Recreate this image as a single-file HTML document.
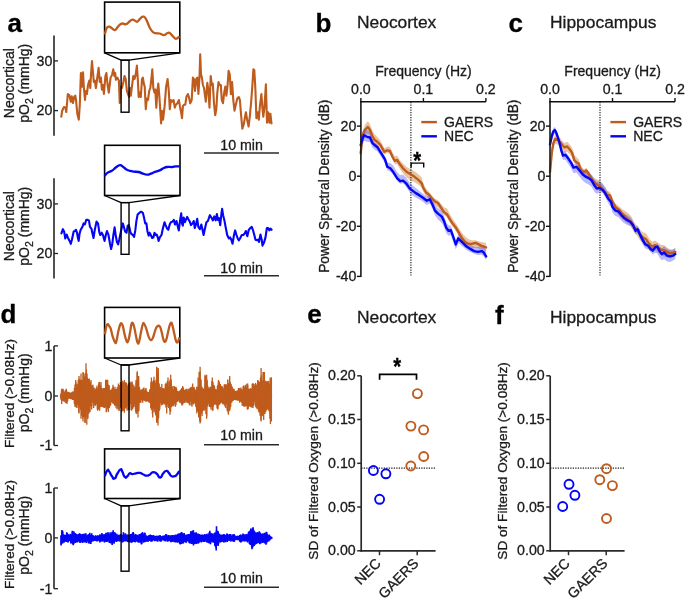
<!DOCTYPE html>
<html><head><meta charset="utf-8"><style>
html,body{margin:0;padding:0;background:#fff;}
body{width:685px;height:599px;overflow:hidden;}
svg{display:block;font-family:"Liberation Sans", sans-serif;will-change:transform;}
text{stroke:currentColor;stroke-width:0.3px;}
</style></head><body>
<svg width="685" height="599" viewBox="0 0 685 599">
<rect width="685" height="599" fill="#fff"/>
<text x="7.5" y="31.5" font-size="26" text-anchor="start" font-weight="bold" fill="#000" color="#000" >a</text>
<text x="315.5" y="31.5" font-size="26" text-anchor="start" font-weight="bold" fill="#000" color="#000" >b</text>
<text x="508.5" y="31.5" font-size="26" text-anchor="start" font-weight="bold" fill="#000" color="#000" >c</text>
<text x="0.5" y="322.5" font-size="26" text-anchor="start" font-weight="bold" fill="#000" color="#000" >d</text>
<text x="307.3" y="323.0" font-size="26" text-anchor="start" font-weight="bold" fill="#000" color="#000" >e</text>
<text x="495.0" y="323.8" font-size="26" text-anchor="start" font-weight="bold" fill="#000" color="#000" >f</text>
<text x="357.0" y="28.3" font-size="17.4" text-anchor="start" font-weight="normal" fill="#1a1a1a" color="#1a1a1a" >Neocortex</text>
<text x="550.0" y="28.0" font-size="17.4" text-anchor="start" font-weight="normal" fill="#1a1a1a" color="#1a1a1a" >Hippocampus</text>
<text x="357.0" y="322.6" font-size="17.4" text-anchor="start" font-weight="normal" fill="#1a1a1a" color="#1a1a1a" >Neocortex</text>
<text x="550.0" y="322.5" font-size="17.4" text-anchor="start" font-weight="normal" fill="#1a1a1a" color="#1a1a1a" >Hippocampus</text>
<line x1="54.0" y1="35.5" x2="54.0" y2="135.7" stroke="#333" stroke-width="1.7" />
<line x1="54.0" y1="60.9" x2="58.0" y2="60.9" stroke="#222" stroke-width="1.3" />
<text x="52.3" y="65.7" font-size="14.2" text-anchor="end" font-weight="normal" fill="#1a1a1a" color="#1a1a1a" >30</text>
<line x1="54.0" y1="110.6" x2="58.0" y2="110.6" stroke="#222" stroke-width="1.3" />
<text x="52.3" y="115.4" font-size="14.2" text-anchor="end" font-weight="normal" fill="#1a1a1a" color="#1a1a1a" >20</text>
<text x="0" y="0" font-size="14.0" text-anchor="middle" fill="#1a1a1a" color="#1a1a1a" transform="translate(14.3 83.2) rotate(-90)">Neocortical</text>
<text x="0" y="0" font-size="14.0" text-anchor="middle" fill="#1a1a1a" color="#1a1a1a" transform="translate(29.2 83.2) rotate(-90)">pO<tspan font-size="10.5" dy="3.8">2</tspan><tspan dy="-3.8"> (mmHg)</tspan></text>
<polyline points="61.3,116.7 62.2,110.7 64.0,107.0 65.5,107.7 66.3,112.0 67.8,94.0 69.3,95.0 70.8,101.7 71.8,96.4 73.0,103.0 74.2,97.0 75.3,95.6 76.0,100.0 77.3,113.7 78.8,119.7 79.8,104.7 80.9,73.0 82.0,86.6 83.0,72.3 83.9,88.0 85.0,100.0 85.8,91.0 86.9,94.0 88.0,85.0 89.3,80.6 90.3,88.0 91.0,74.6 92.0,61.0 92.9,71.6 93.8,82.0 94.8,80.6 95.9,88.0 97.1,79.0 98.6,67.8 99.8,82.0 100.9,77.6 101.9,89.6 103.1,85.0 103.9,94.0 105.4,76.0 106.4,73.0 107.6,85.0 108.8,92.6 110.6,77.6 112.1,74.6 113.3,69.3 114.4,76.0 115.2,73.0 115.9,79.8 117.4,77.6 118.9,80.6 119.7,103.0 120.6,86.6 121.9,88.0 123.4,82.0 124.5,76.0 125.7,79.0 126.9,91.0 127.9,94.0 129.0,97.0 130.2,88.0 130.8,95.6 132.3,83.6 133.3,76.0 134.5,79.0 135.7,74.6 136.9,65.6 137.8,79.0 138.7,97.0 139.8,92.6 140.8,97.0 142.0,79.0 142.9,77.6 143.8,83.6 144.7,86.6 145.8,109.2 146.8,98.6 148.0,100.0 149.2,91.0 150.3,88.0 151.4,79.0 152.3,69.3 153.3,88.0 154.4,92.6 155.3,89.6 156.3,107.7 157.4,91.0 158.3,83.6 159.3,95.6 160.4,112.2 161.1,123.5 161.9,110.7 163.1,119.7 164.6,106.2 166.1,86.6 167.6,79.0 168.8,91.0 169.8,109.2 170.9,100.0 172.1,101.7 173.6,100.0 174.8,107.7 175.9,104.7 177.4,103.2 178.9,100.0 179.9,106.2 181.1,112.2 182.0,118.2 182.9,106.2 184.1,104.7 185.3,104.7 186.4,97.0 187.9,94.0 188.9,97.0 190.2,103.2 191.7,100.0 192.9,77.6 193.9,79.0 195.0,91.0 196.2,79.0 197.4,77.6 198.4,94.0 199.5,77.6 200.2,54.3 201.0,74.6 201.9,77.6 202.9,85.0 204.0,88.0 205.8,101.7 207.3,82.9 208.3,89.6 209.5,107.7 210.7,76.0 211.8,85.0 212.8,83.6 214.0,103.2 215.2,115.2 216.3,109.2 217.3,92.6 218.5,82.1 219.7,85.0 220.8,85.0 221.8,100.2 223.0,103.2 224.2,92.6 225.3,86.6 226.4,95.6 227.6,85.0 228.6,70.8 229.8,74.6 230.9,94.1 232.1,82.1 233.3,100.2 234.5,110.7 235.8,104.7 237.3,98.6 238.8,97.1 239.9,100.2 241.1,115.2 242.3,128.7 243.8,124.2 244.8,118.2 245.9,112.2 247.1,119.7 248.6,126.5 249.8,116.7 251.3,100.2 252.4,85.0 253.4,69.3 254.3,70.1 255.4,89.6 256.4,118.2 257.6,112.2 258.8,119.7 259.9,106.2 261.4,94.1 262.4,107.7 263.3,116.7 264.4,107.7 265.9,84.4 267.0,122.7 268.2,112.2 269.4,122.7 270.4,113.7 271.5,123.5" fill="none" stroke="#bf5b1c" stroke-width="2.1" stroke-linejoin="round" stroke-linecap="round" />
<rect x="104.6" y="2.1" width="75.2" height="50.7" fill="none" stroke="#000" stroke-width="1.6"/>
<polyline points="104.6,52.8 121.1,60.2 129.0,60.2 179.8,52.8" fill="none" stroke="#000" stroke-width="1.3" stroke-linejoin="round"/>
<rect x="121.1" y="60.2" width="7.9" height="52.0" fill="none" stroke="#000" stroke-width="1.4"/>
<path d="M105.00,33.50 C105.48,32.01 105.65,29.71 106.80,27.90 C107.95,26.09 108.05,26.70 109.30,26.70 C110.55,26.70 110.01,27.02 111.50,27.90 C112.99,28.78 113.17,30.32 114.90,30.00 C116.63,29.68 116.19,28.41 118.00,26.70 C119.81,24.99 119.57,24.27 121.70,23.60 C123.83,22.93 124.00,24.71 126.00,24.20 C128.00,23.69 127.52,22.93 129.20,21.70 C130.88,20.47 130.83,19.92 132.30,19.60 C133.77,19.28 133.39,19.94 134.70,20.50 C136.01,21.06 135.87,22.05 137.20,21.70 C138.53,21.35 138.21,20.53 139.70,19.20 C141.19,17.87 141.31,17.02 142.80,16.70 C144.29,16.38 143.97,16.32 145.30,18.00 C146.63,19.68 146.49,20.20 147.80,23.00 C149.11,25.80 148.73,26.02 150.20,28.50 C151.67,30.98 151.62,31.02 153.30,32.30 C154.98,33.58 154.82,32.98 156.50,33.30 C158.18,33.62 158.13,33.18 159.60,33.50 C161.07,33.82 160.69,34.10 162.00,34.50 C163.31,34.90 163.17,35.32 164.50,35.00 C165.83,34.68 165.67,33.86 167.00,33.30 C168.33,32.74 168.17,32.34 169.50,32.90 C170.83,33.46 170.69,34.09 172.00,35.40 C173.31,36.71 173.25,36.92 174.40,37.80 C175.55,38.68 175.13,38.91 176.30,38.70 C177.47,38.49 178.13,37.45 178.80,37.00" fill="none" stroke="#bf5b1c" stroke-width="2.3" stroke-linejoin="round" stroke-linecap="round" />
<line x1="204.0" y1="153.0" x2="279.0" y2="153.0" stroke="#2a2a2a" stroke-width="1.5" />
<text x="241.6" y="149.7" font-size="14.2" text-anchor="middle" font-weight="normal" fill="#1a1a1a" color="#1a1a1a" >10 min</text>
<line x1="54.0" y1="178.3" x2="54.0" y2="278.6" stroke="#333" stroke-width="1.7" />
<line x1="54.0" y1="203.9" x2="58.0" y2="203.9" stroke="#222" stroke-width="1.3" />
<text x="52.3" y="208.7" font-size="14.2" text-anchor="end" font-weight="normal" fill="#1a1a1a" color="#1a1a1a" >30</text>
<line x1="54.0" y1="253.5" x2="58.0" y2="253.5" stroke="#222" stroke-width="1.3" />
<text x="52.3" y="258.3" font-size="14.2" text-anchor="end" font-weight="normal" fill="#1a1a1a" color="#1a1a1a" >20</text>
<text x="0" y="0" font-size="14.0" text-anchor="middle" fill="#1a1a1a" color="#1a1a1a" transform="translate(14.3 226.2) rotate(-90)">Neocortical</text>
<text x="0" y="0" font-size="14.0" text-anchor="middle" fill="#1a1a1a" color="#1a1a1a" transform="translate(29.2 226.2) rotate(-90)">pO<tspan font-size="10.5" dy="3.8">2</tspan><tspan dy="-3.8"> (mmHg)</tspan></text>
<polyline points="61.4,233.3 62.9,229.2 64.1,231.5 65.3,238.5 66.7,234.5 67.8,237.4 69.6,240.9 70.8,243.8 71.9,239.7 73.7,231.5 74.9,231.0 76.0,229.8 77.0,232.7 77.8,237.4 78.7,240.9 79.5,233.9 80.7,229.8 82.4,226.9 83.6,223.4 84.8,224.5 86.3,219.9 87.7,219.9 88.9,220.4 90.0,226.9 91.4,228.6 92.6,233.9 93.5,238.0 94.7,230.4 96.5,221.6 98.0,223.4 99.4,232.7 100.3,235.0 101.7,232.7 102.9,235.0 104.6,240.9 105.8,235.0 107.0,231.0 108.5,235.0 109.9,243.2 111.1,249.0 112.2,244.4 113.4,235.0 114.6,227.4 115.7,235.0 116.9,242.0 118.1,244.4 119.2,239.7 120.4,233.9 121.6,228.6 122.8,223.4 123.9,226.9 125.1,231.5 126.5,232.7 127.7,225.7 128.8,225.1 130.3,231.5 131.2,233.9 132.9,235.0 134.1,236.8 135.3,230.4 136.4,221.0 137.6,214.6 139.3,212.9 141.1,211.7 142.9,212.9 144.0,217.5 145.2,223.4 146.4,223.4 147.5,231.5 148.7,235.6 149.6,232.7 150.8,235.0 152.2,238.0 153.4,237.4 154.5,232.7 155.7,235.0 156.6,234.5 157.8,237.4 158.6,240.9 159.8,237.4 161.5,235.0 162.7,229.2 164.5,222.2 165.6,225.1 167.1,228.6 168.3,229.8 169.7,224.5 170.9,222.2 172.3,221.6 173.8,219.9 175.0,224.5 176.5,221.0 177.9,226.9 178.8,230.4 180.0,221.0 181.2,213.4 182.0,223.4 182.8,225.7 183.7,217.5 184.9,222.2 186.1,219.3 187.2,216.9 188.4,219.3 189.8,221.6 191.0,225.1 192.5,223.4 193.7,221.0 194.8,228.0 196.0,224.5 197.2,218.7 198.3,226.9 199.9,229.2 201.3,224.5 202.4,229.2 203.6,235.0 204.8,229.2 206.4,222.2 207.9,221.0 209.9,215.2 211.4,217.5 212.9,220.4 214.3,216.4 215.7,220.4 216.9,214.0 217.9,219.9 219.0,218.1 220.2,225.1 221.4,214.0 222.1,208.8 223.1,215.2 224.3,219.9 225.8,228.0 227.2,235.0 228.9,238.5 230.1,237.4 231.3,239.7 232.5,243.8 234.0,235.0 235.1,230.4 236.5,235.0 237.7,238.5 238.9,240.3 240.0,238.5 241.8,235.0 243.3,235.0 244.7,233.3 245.9,231.0 247.3,236.2 248.8,229.8 250.3,228.0 251.7,226.9 253.1,230.4 254.3,235.0 255.5,239.7 257.0,240.3 258.2,239.7 259.0,242.0 260.5,234.5 261.7,239.7 262.5,245.6 264.0,242.6 265.5,237.4 266.9,228.0 268.1,228.0 269.3,230.4 270.4,228.6 271.6,229.8" fill="none" stroke="#0404f6" stroke-width="2.1" stroke-linejoin="round" stroke-linecap="round" />
<rect x="104.6" y="145.3" width="75.4" height="50.2" fill="none" stroke="#000" stroke-width="1.6"/>
<polyline points="104.6,195.5 121.1,202.6 129.0,202.6 180.0,195.5" fill="none" stroke="#000" stroke-width="1.3" stroke-linejoin="round"/>
<rect x="121.1" y="202.6" width="7.9" height="51.7" fill="none" stroke="#000" stroke-width="1.4"/>
<path d="M105.00,175.40 C105.64,174.73 105.59,174.13 107.40,172.90 C109.21,171.67 109.48,172.29 111.80,170.80 C114.12,169.31 113.94,168.79 116.10,167.30 C118.26,165.81 118.06,165.36 119.90,165.20 C121.74,165.04 121.37,165.63 123.00,166.70 C124.63,167.77 124.19,168.11 126.00,169.20 C127.81,170.29 127.80,170.16 129.80,170.80 C131.80,171.44 131.18,171.28 133.50,171.60 C135.82,171.92 136.18,171.55 138.50,172.00 C140.82,172.45 139.91,172.58 142.20,173.30 C144.49,174.02 144.78,174.59 147.10,174.70 C149.42,174.81 148.90,174.42 150.90,173.70 C152.90,172.98 152.28,172.88 154.60,172.00 C156.92,171.12 157.28,171.39 159.60,170.40 C161.92,169.41 161.33,169.21 163.30,168.30 C165.27,167.39 164.68,167.35 167.00,167.00 C169.32,166.65 169.68,167.16 172.00,167.00 C174.32,166.84 173.89,166.59 175.70,166.40 C177.51,166.21 177.97,166.33 178.80,166.30" fill="none" stroke="#0404f6" stroke-width="2.3" stroke-linejoin="round" stroke-linecap="round" />
<line x1="204.0" y1="275.8" x2="279.0" y2="275.8" stroke="#2a2a2a" stroke-width="1.5" />
<text x="241.6" y="272.5" font-size="14.2" text-anchor="middle" font-weight="normal" fill="#1a1a1a" color="#1a1a1a" >10 min</text>
<line x1="54.0" y1="345.9" x2="54.0" y2="445.5" stroke="#333" stroke-width="1.7" />
<line x1="54.0" y1="345.9" x2="58.0" y2="345.9" stroke="#222" stroke-width="1.3" />
<text x="52.3" y="350.7" font-size="14.2" text-anchor="end" font-weight="normal" fill="#1a1a1a" color="#1a1a1a" >1</text>
<line x1="54.0" y1="396.0" x2="58.0" y2="396.0" stroke="#222" stroke-width="1.3" />
<text x="52.3" y="400.8" font-size="14.2" text-anchor="end" font-weight="normal" fill="#1a1a1a" color="#1a1a1a" >0</text>
<line x1="54.0" y1="445.5" x2="58.0" y2="445.5" stroke="#222" stroke-width="1.3" />
<text x="52.3" y="450.3" font-size="14.2" text-anchor="end" font-weight="normal" fill="#1a1a1a" color="#1a1a1a" >-1</text>
<text x="0" y="0" font-size="13.6" text-anchor="middle" fill="#1a1a1a" color="#1a1a1a" transform="translate(14.2 393.5) rotate(-90)">Filtered (&gt;0.08Hz)</text>
<text x="0" y="0" font-size="14.0" text-anchor="middle" fill="#1a1a1a" color="#1a1a1a" transform="translate(29.3 392.8) rotate(-90)">pO<tspan font-size="10.5" dy="3.8">2</tspan><tspan dy="-3.8"> (mmHg)</tspan></text>
<polygon points="60.6,395.0 61.6,392.8 62.6,392.6 63.6,393.3 64.6,393.9 65.6,393.1 66.6,392.9 67.6,394.0 68.6,394.2 69.6,394.4 70.6,394.3 71.6,394.2 72.6,393.9 73.6,393.0 74.6,391.7 75.6,389.0 76.6,389.9 77.6,389.4 78.6,387.6 79.6,386.5 80.6,386.0 81.6,385.5 82.6,385.2 83.6,385.3 84.6,385.6 85.6,383.0 86.6,383.9 87.6,386.4 88.6,387.6 89.6,388.3 90.6,388.6 91.6,389.3 92.6,390.4 93.6,391.4 94.6,392.5 95.6,392.4 96.6,391.5 97.6,390.7 98.6,389.9 99.6,389.6 100.6,389.6 101.6,391.0 102.6,392.8 103.6,392.3 104.6,390.7 105.6,388.9 106.6,388.7 107.6,388.7 108.6,390.4 109.6,391.7 110.6,392.8 111.6,392.5 112.6,391.3 113.6,391.1 114.6,391.5 115.6,392.0 116.6,392.4 117.6,391.6 118.6,390.2 119.6,389.8 120.6,389.5 121.6,389.2 122.6,389.0 123.6,388.8 124.6,388.8 125.6,389.4 126.6,389.9 127.6,390.1 128.6,390.1 129.6,389.5 130.6,389.3 131.6,389.3 132.6,389.9 133.6,390.8 134.6,390.4 135.6,389.2 136.6,386.9 137.6,385.2 138.6,386.7 139.6,391.1 140.6,392.9 141.6,392.9 142.6,392.6 143.6,392.2 144.6,392.1 145.6,392.2 146.6,392.7 147.6,393.4 148.6,394.0 149.6,391.9 150.6,389.5 151.6,387.5 152.6,387.4 153.6,387.3 154.6,388.4 155.6,388.8 156.6,383.3 157.6,383.0 158.6,385.2 159.6,391.7 160.6,391.2 161.6,390.6 162.6,391.1 163.6,392.0 164.6,391.6 165.6,390.4 166.6,389.2 167.6,388.0 168.6,388.3 169.6,388.9 170.6,386.5 171.6,390.0 172.6,391.6 173.6,391.5 174.6,391.5 175.6,391.6 176.6,392.2 177.6,393.1 178.6,393.5 179.6,393.5 180.6,393.0 181.6,392.3 182.6,391.5 183.6,392.2 184.6,393.1 185.6,392.9 186.6,392.6 187.6,392.6 188.6,392.6 189.6,392.5 190.6,392.1 191.6,391.5 192.6,390.3 193.6,391.2 194.6,392.4 195.6,392.2 196.6,391.8 197.6,389.1 198.6,386.3 199.6,383.9 200.6,385.0 201.6,389.5 202.6,391.9 203.6,392.1 204.6,389.0 205.6,386.3 206.6,386.3 207.6,389.8 208.6,392.2 209.6,391.9 210.6,391.1 211.6,389.0 212.6,388.1 213.6,389.9 214.6,391.4 215.6,392.3 216.6,392.3 217.6,390.3 218.6,388.9 219.6,389.8 220.6,390.6 221.6,391.2 222.6,391.6 223.6,391.1 224.6,390.7 225.6,390.0 226.6,389.3 227.6,388.5 228.6,387.7 229.6,387.0 230.6,389.1 231.6,391.5 232.6,392.1 233.6,392.6 234.6,393.1 235.6,393.6 236.6,393.9 237.6,393.0 238.6,392.3 239.6,392.2 240.6,392.1 241.6,391.8 242.6,391.5 243.6,391.2 244.6,391.0 245.6,390.8 246.6,390.5 247.6,390.2 248.6,390.9 249.6,391.7 250.6,392.1 251.6,391.0 252.6,390.2 253.6,390.3 254.6,390.4 255.6,390.1 256.6,389.4 257.6,388.8 258.6,389.1 259.6,389.5 260.6,385.5 261.6,383.7 262.6,384.6 263.6,385.1 264.6,385.7 265.6,388.7 266.6,389.1 267.6,389.3 268.6,388.7 269.6,388.0 270.6,387.5 271.6,391.7 271.6,407.3 270.6,408.3 269.6,406.5 268.6,403.9 267.6,402.0 266.6,402.6 265.6,403.3 264.6,405.1 263.6,406.7 262.6,407.0 261.6,407.2 260.6,406.4 259.6,404.6 258.6,402.9 257.6,402.0 256.6,401.3 255.6,400.7 254.6,400.9 253.6,401.2 252.6,401.2 251.6,401.0 250.6,400.8 249.6,401.1 248.6,401.5 247.6,401.9 246.6,401.4 245.6,401.0 244.6,400.6 243.6,400.4 242.6,400.2 241.6,399.8 240.6,399.3 239.6,398.9 238.6,398.4 237.6,398.0 236.6,397.7 235.6,397.7 234.6,397.7 233.6,398.1 232.6,398.5 231.6,399.1 230.6,400.9 229.6,402.6 228.6,404.0 227.6,403.4 226.6,402.3 225.6,401.2 224.6,400.6 223.6,399.9 222.6,399.4 221.6,399.2 220.6,398.9 219.6,399.8 218.6,400.9 217.6,401.8 216.6,400.9 215.6,400.0 214.6,400.1 213.6,401.6 212.6,402.4 211.6,402.1 210.6,401.6 209.6,400.7 208.6,399.8 207.6,402.2 206.6,406.1 205.6,403.1 204.6,401.8 203.6,403.1 202.6,404.3 201.6,405.7 200.6,407.4 199.6,407.2 198.6,405.3 197.6,404.4 196.6,403.3 195.6,401.0 194.6,399.0 193.6,399.6 192.6,400.3 191.6,400.6 190.6,400.3 189.6,399.9 188.6,399.5 187.6,399.0 186.6,398.9 185.6,398.9 184.6,398.9 183.6,399.4 182.6,399.8 181.6,399.9 180.6,399.3 179.6,398.8 178.6,398.6 177.6,398.4 176.6,399.3 175.6,400.5 174.6,400.5 173.6,400.3 172.6,400.3 171.6,401.8 170.6,403.4 169.6,403.4 168.6,401.4 167.6,402.6 166.6,403.6 165.6,402.0 164.6,400.4 163.6,399.6 162.6,399.8 161.6,400.1 160.6,401.1 159.6,402.3 158.6,406.3 157.6,408.7 156.6,407.6 155.6,404.9 154.6,402.7 153.6,404.2 152.6,405.3 151.6,403.2 150.6,401.1 149.6,399.7 148.6,398.3 147.6,398.3 146.6,398.3 145.6,398.3 144.6,398.5 143.6,398.7 142.6,398.9 141.6,398.9 140.6,398.9 139.6,400.2 138.6,403.5 137.6,405.2 136.6,404.3 135.6,403.1 134.6,401.6 133.6,401.0 132.6,401.8 131.6,402.5 130.6,400.3 129.6,402.2 128.6,402.3 127.6,402.4 126.6,402.7 125.6,403.0 124.6,403.3 123.6,403.3 122.6,403.2 121.6,403.0 120.6,402.8 119.6,402.6 118.6,402.4 117.6,402.1 116.6,401.6 115.6,400.7 114.6,399.9 113.6,399.5 112.6,399.0 111.6,399.4 110.6,400.0 109.6,401.3 108.6,402.8 107.6,403.1 106.6,403.1 105.6,402.4 104.6,401.5 103.6,401.1 102.6,400.9 101.6,400.8 100.6,401.7 99.6,402.5 98.6,402.5 97.6,402.4 96.6,401.2 95.6,400.2 94.6,400.8 93.6,401.3 92.6,401.6 91.6,402.0 90.6,402.6 89.6,403.2 88.6,404.7 87.6,406.4 86.6,408.7 85.6,408.2 84.6,407.8 83.6,407.5 82.6,407.1 81.6,406.5 80.6,405.6 79.6,404.4 78.6,403.2 77.6,402.0 76.6,401.2 75.6,400.9 74.6,399.8 73.6,397.7 72.6,397.5 71.6,397.2 70.6,397.1 69.6,397.1 68.6,397.1 67.6,398.5 66.6,399.3 65.6,398.9 64.6,398.6 63.6,398.4 62.6,399.0 61.6,399.2 60.6,396.5" fill="#bf5b1c"/>
<polyline points="60.6,394.4 61.0,399.4 61.4,391.0 61.8,400.8 62.3,391.6 62.8,400.1 63.2,390.2 63.8,399.7 64.2,392.1 64.8,401.5 65.3,390.4 65.7,402.5 66.1,391.0 66.5,401.9 67.1,392.0 67.6,401.2 68.1,392.5 68.4,397.6 68.9,392.7 69.3,398.1 69.9,393.1 70.3,398.6 70.9,393.2 71.4,398.5 72.0,392.3 72.4,399.4 72.8,391.9 73.4,398.7 73.9,391.8 74.4,403.4 75.0,384.9 75.4,406.2 75.9,382.3 76.4,407.2 77.1,385.4 77.6,404.4 78.2,380.7 78.8,412.2 79.2,379.1 79.8,406.8 80.3,380.3 80.7,409.5 81.2,380.1 81.7,415.6 82.3,380.7 82.8,418.2 83.4,373.2 84.0,416.4 84.5,377.1 85.1,422.6 85.5,376.0 85.9,417.1 86.4,370.2 86.8,409.9 87.3,378.0 87.8,418.1 88.4,379.4 88.9,413.2 89.3,379.2 89.9,411.4 90.5,382.3 90.9,405.6 91.5,386.6 91.8,405.9 92.2,385.3 92.6,401.4 93.0,388.4 93.4,402.8 94.1,388.0 94.5,404.4 94.9,390.4 95.3,405.6 95.9,388.7 96.4,403.4 96.8,387.6 97.3,409.0 97.6,389.4 98.3,408.9 98.7,384.1 99.0,408.9 99.7,382.4 100.2,406.5 100.7,385.9 101.3,406.1 101.9,388.4 102.3,406.5 102.9,389.1 103.5,407.1 104.1,388.7 104.6,406.1 105.0,388.5 105.4,406.8 105.9,380.1 106.4,411.8 107.1,380.2 107.5,408.0 108.0,384.9 108.4,410.5 109.0,385.7 109.5,407.4 110.1,390.6 110.6,404.9 111.2,389.8 111.7,401.5 112.3,388.4 112.9,403.1 113.3,386.8 114.0,403.8 114.4,389.1 114.8,405.0 115.4,389.6 116.0,407.3 116.5,389.6 117.0,405.3 117.4,387.3 117.9,408.3 118.6,385.2 119.2,410.2 119.6,385.6 120.0,407.5 120.5,385.0 121.0,406.8 121.6,383.9 122.1,410.4 122.7,383.0 123.4,410.3 123.9,382.1 124.2,410.1 124.6,388.3 125.2,407.6 125.7,382.7 126.2,408.3 126.7,384.3 127.3,405.8 127.9,386.1 128.3,409.6 128.8,384.3 129.4,409.8 129.8,382.9 130.3,403.4 130.9,383.5 131.4,407.9 132.0,382.5 132.7,408.8 133.1,384.9 133.7,406.8 134.1,388.4 134.6,404.1 135.0,387.4 135.6,411.2 136.2,383.6 136.8,413.4 137.1,372.9 137.8,411.7 138.4,378.5 138.9,410.6 139.5,387.7 140.0,401.9 140.5,391.1 140.9,402.3 141.3,390.1 141.7,399.6 142.2,389.8 142.7,400.1 143.3,388.4 144.0,400.0 144.4,390.9 145.0,400.3 145.4,389.1 146.0,401.2 146.4,390.7 147.1,400.8 147.6,392.2 148.0,401.0 148.5,393.1 149.1,402.1 149.7,389.9 150.3,402.7 150.9,382.4 151.3,409.3 152.0,381.4 152.4,413.4 152.8,383.1 153.2,408.0 153.6,380.6 154.0,412.0 154.5,380.9 154.9,408.8 155.2,385.2 155.6,414.8 156.1,379.8 156.6,421.7 157.0,368.1 157.5,420.5 158.1,372.5 158.6,417.8 159.2,383.8 159.8,408.7 160.3,387.4 160.8,402.7 161.2,388.8 161.8,403.1 162.2,388.5 162.8,404.4 163.3,388.7 163.7,402.4 164.2,389.8 164.7,404.1 165.3,384.5 165.9,407.0 166.5,384.3 167.0,403.5 167.4,381.3 167.9,406.4 168.4,387.3 168.9,404.3 169.3,387.1 169.7,409.5 170.1,379.6 170.6,411.6 171.2,380.0 171.8,406.5 172.2,386.7 172.6,405.1 173.2,390.1 173.8,405.7 174.3,386.7 174.9,403.3 175.4,387.7 176.0,404.7 176.6,388.7 177.2,401.4 177.8,391.6 178.1,400.0 178.6,392.4 179.2,401.6 179.7,391.2 180.3,402.1 180.6,389.9 181.2,403.2 181.7,388.4 182.1,404.7 182.5,389.7 182.9,403.9 183.4,387.8 184.0,402.4 184.5,390.4 185.0,402.3 185.5,390.0 185.9,400.7 186.3,389.3 186.8,402.0 187.1,391.4 187.6,402.3 188.1,389.2 188.6,402.9 189.1,389.7 189.4,404.6 189.9,388.3 190.5,401.2 191.0,387.5 191.6,404.9 192.0,387.8 192.7,403.2 193.2,388.0 193.7,404.1 194.1,387.3 194.6,402.7 195.2,390.1 195.8,406.5 196.1,391.7 196.6,410.1 197.1,388.0 197.5,411.1 198.1,387.2 198.7,416.4 199.1,372.5 199.7,420.8 200.1,371.8 200.6,421.7 201.1,380.0 201.6,413.1 201.9,388.6 202.5,410.8 203.2,389.3 203.6,410.0 204.0,389.3 204.6,408.8 205.2,376.6 205.9,413.5 206.4,376.1 206.7,416.2 207.2,380.5 207.8,405.9 208.1,386.8 208.5,403.2 209.0,389.3 209.5,406.4 210.0,387.6 210.4,406.8 210.9,387.3 211.3,406.1 211.9,381.4 212.3,410.0 213.0,382.3 213.4,405.9 213.7,385.5 214.1,404.3 214.5,386.9 215.2,403.8 215.6,389.3 216.1,404.4 216.6,391.0 217.0,407.9 217.4,385.9 217.9,408.4 218.4,383.6 218.8,404.9 219.3,381.9 219.9,403.8 220.2,388.8 220.8,402.7 221.3,386.3 221.6,402.1 222.3,386.9 222.9,403.9 223.3,389.0 223.7,403.9 224.2,384.9 224.8,405.8 225.4,385.1 225.9,403.3 226.5,384.9 227.1,410.2 227.6,384.6 228.0,412.1 228.5,383.7 228.9,411.0 229.4,379.7 229.9,408.7 230.2,382.2 230.7,406.6 231.2,384.5 231.7,401.0 232.2,387.2 232.7,400.5 233.1,389.1 233.6,400.0 234.1,389.7 234.7,399.0 235.0,391.4 235.5,399.7 235.9,391.6 236.5,399.5 236.9,391.0 237.4,400.2 237.8,390.9 238.4,400.2 239.0,388.9 239.4,400.8 239.9,388.3 240.5,401.2 241.0,389.5 241.6,402.0 242.0,390.1 242.4,405.2 243.1,386.5 243.7,405.9 244.2,388.1 244.8,406.0 245.1,385.8 245.6,405.3 246.1,387.6 246.4,405.5 246.9,384.1 247.3,408.9 247.7,385.7 248.3,408.3 248.7,389.3 249.2,405.7 249.9,389.4 250.3,406.5 250.7,388.7 251.3,406.5 251.6,389.6 252.0,407.3 252.4,384.1 253.1,405.7 253.5,383.8 254.0,404.9 254.6,386.3 255.0,401.2 255.6,383.4 256.1,407.2 256.5,385.1 257.0,408.5 257.6,382.8 258.0,408.0 258.5,381.1 258.9,412.1 259.5,382.4 260.1,415.4 260.5,377.9 261.0,419.8 261.4,375.6 262.0,415.1 262.3,381.0 262.8,415.7 263.5,372.6 264.1,413.3 264.5,380.5 265.0,413.5 265.5,383.2 266.0,410.2 266.5,381.8 267.1,409.1 267.5,381.8 267.9,408.7 268.4,381.3 268.8,410.6 269.2,383.8 269.9,418.3 270.3,380.5 271.0,419.2 271.4,378.2" fill="none" stroke="#bf5b1c" stroke-width="1.3" stroke-linejoin="round" stroke-linecap="round" stroke-linejoin="miter" stroke-linecap="butt"/>
<path d="M60.6,395.8V394.0M61.7,395.8V388.7M63.0,395.8V388.7M64.3,395.8V392.0M66.3,395.8V388.7M67.7,395.8V392.0M69.7,395.8V392.7M72.4,395.8V392.0M74.4,395.8V388.0M75.7,395.8V380.0M77.0,395.8V384.0M79.0,395.8V376.0M81.0,395.8V373.4M83.0,395.8V372.0M85.0,395.8V373.4M86.0,395.8V363.3M87.0,395.8V373.4M89.0,395.8V378.7M91.0,395.8V380.0M93.0,395.8V384.7M95.0,395.8V389.4M97.0,395.8V385.4M99.0,395.8V382.0M101.0,395.8V382.0M102.4,395.8V389.4M103.7,395.8V388.0M105.7,395.8V380.0M107.7,395.8V380.0M109.0,395.8V385.4M111.0,395.8V390.0M113.0,395.8V384.7M115.0,395.8V386.7M117.0,395.8V388.7M118.4,395.8V383.4M120.4,395.8V382.0M122.4,395.8V380.7M124.4,395.8V380.0M126.4,395.8V382.7M128.4,395.8V383.4M130.0,395.8V381.4M132.0,395.8V381.4M134.0,395.8V385.4M136.0,395.8V380.0M137.3,395.8V371.3M138.7,395.8V376.0M140.0,395.8V389.4M142.0,395.8V389.4M144.0,395.8V387.4M146.0,395.8V388.0M148.7,395.8V392.0M151.4,395.8V377.4M154.0,395.8V376.7M155.4,395.8V382.7M156.7,395.8V366.7M158.3,395.8V368.0M159.6,395.8V386.7M161.8,395.8V384.0M164.0,395.8V388.0M166.0,395.8V382.7M168.0,395.8V377.4M169.4,395.8V381.4M170.7,395.8V374.7M172.0,395.8V386.7M174.0,395.8V386.0M176.0,395.8V386.7M178.0,395.8V390.7M180.0,395.8V390.7M182.7,395.8V386.0M184.7,395.8V390.0M186.7,395.8V388.7M189.4,395.8V388.7M191.4,395.8V386.7M192.7,395.8V383.4M194.8,395.8V388.7M196.8,395.8V386.7M198.1,395.8V377.4M200.1,395.8V366.7M202.1,395.8V386.7M204.1,395.8V388.0M205.0,395.8V374.7M206.6,395.8V374.7M208.3,395.8V388.0M210.3,395.8V386.7M212.3,395.8V377.4M214.3,395.8V385.4M216.3,395.8V389.4M218.4,395.8V380.0M220.4,395.8V384.0M222.4,395.8V386.7M225.0,395.8V384.0M227.7,395.8V379.4M229.7,395.8V376.0M231.7,395.8V386.7M233.7,395.8V388.7M236.4,395.8V392.0M238.4,395.8V388.0M241.0,395.8V387.4M243.7,395.8V385.4M245.7,395.8V384.7M247.7,395.8V383.4M250.4,395.8V388.0M252.4,395.8V383.4M255.0,395.8V384.0M257.7,395.8V380.0M259.7,395.8V382.0M261.1,395.8V368.0M263.1,395.8V372.0M264.4,395.8V372.0M265.7,395.8V380.7M267.8,395.8V381.4M270.2,395.8V377.4M271.4,395.8V377.4M271.8,395.8V396.0M60.6,395.8V397.4M61.7,395.8V404.0M63.7,395.8V401.4M65.7,395.8V402.7M67.0,395.8V404.0M68.4,395.8V398.7M71.0,395.8V398.7M73.7,395.8V400.0M75.0,395.8V406.7M77.0,395.8V408.0M79.0,395.8V413.4M81.0,395.8V418.7M83.0,395.8V421.4M85.0,395.8V422.7M86.8,395.8V424.8M87.7,395.8V418.7M89.7,395.8V412.0M91.7,395.8V409.4M93.7,395.8V408.0M95.7,395.8V405.4M97.7,395.8V410.7M99.7,395.8V410.7M101.7,395.8V406.7M104.4,395.8V408.0M106.4,395.8V412.0M108.4,395.8V412.0M110.4,395.8V405.4M112.4,395.8V402.7M115.0,395.8V405.4M117.0,395.8V409.4M119.0,395.8V410.7M121.8,395.8V412.0M124.4,395.8V412.7M127.1,395.8V410.7M129.8,395.8V410.0M130.0,395.8V402.7M131.6,395.8V410.7M134.0,395.8V406.7M136.0,395.8V413.4M138.0,395.8V417.4M140.0,395.8V402.7M142.7,395.8V402.7M145.4,395.8V401.4M148.7,395.8V401.4M150.7,395.8V408.0M152.7,395.8V417.4M154.7,395.8V410.7M156.7,395.8V422.7M158.0,395.8V425.4M159.4,395.8V410.7M161.4,395.8V405.4M164.0,395.8V404.0M166.7,395.8V413.4M168.7,395.8V408.0M170.0,395.8V414.7M172.7,395.8V405.4M175.4,395.8V406.7M177.4,395.8V401.4M180.0,395.8V402.7M182.0,395.8V405.4M184.7,395.8V402.7M187.4,395.8V402.7M190.0,395.8V405.4M192.0,395.8V406.7M194.7,395.8V402.7M196.8,395.8V413.4M198.8,395.8V417.4M200.1,395.8V423.4M202.1,395.8V416.0M204.1,395.8V410.7M205.0,395.8V408.0M206.6,395.8V418.7M208.3,395.8V404.0M211.0,395.8V409.4M213.0,395.8V410.7M215.0,395.8V404.0M217.7,395.8V409.4M220.4,395.8V402.7M223.0,395.8V404.0M225.7,395.8V408.0M228.4,395.8V414.7M229.7,395.8V410.7M231.7,395.8V402.7M234.4,395.8V400.0M237.0,395.8V400.0M239.7,395.8V402.7M242.4,395.8V405.4M245.0,395.8V406.7M247.7,395.8V409.4M250.4,395.8V406.7M253.0,395.8V408.0M255.7,395.8V406.7M258.4,395.8V410.7M261.1,395.8V421.4M263.7,395.8V420.0M265.7,395.8V412.0M267.8,395.8V409.4M270.4,395.8V424.0M271.4,395.8V421.4" stroke="#bf5b1c" stroke-width="1.3" fill="none"/>
<rect x="104.6" y="307.4" width="75.2" height="50.6" fill="none" stroke="#000" stroke-width="1.6"/>
<polyline points="104.6,358.0 121.1,365.0 129.0,365.0 179.8,358.0" fill="none" stroke="#000" stroke-width="1.3" stroke-linejoin="round"/>
<rect x="121.1" y="365.0" width="7.9" height="65.8" fill="none" stroke="#000" stroke-width="1.4"/>
<path d="M105.10,333.20 C105.40,331.47 105.77,327.92 106.40,325.80 C107.03,323.68 107.12,323.96 107.80,324.10 C108.48,324.24 108.62,325.33 109.30,326.40 C109.98,327.47 109.91,326.32 110.70,328.70 C111.49,331.08 111.70,333.43 112.70,336.60 C113.70,339.77 114.14,341.23 115.00,342.30 C115.86,343.37 115.61,343.84 116.40,341.20 C117.19,338.56 117.54,334.85 118.40,331.00 C119.26,327.15 119.38,326.45 120.10,324.70 C120.82,322.95 120.85,323.10 121.50,323.50 C122.15,323.90 122.18,323.86 122.90,326.40 C123.62,328.94 123.71,330.90 124.60,334.40 C125.49,337.90 125.84,339.95 126.70,341.40 C127.56,342.85 127.51,342.77 128.30,340.60 C129.09,338.43 129.35,335.95 130.10,332.10 C130.85,328.25 130.87,326.18 131.50,324.10 C132.13,322.02 132.15,322.41 132.80,323.20 C133.45,323.99 133.55,324.49 134.30,327.50 C135.05,330.51 135.21,332.51 136.00,336.10 C136.79,339.69 136.95,341.71 137.70,342.90 C138.45,344.09 138.38,343.98 139.20,341.20 C140.02,338.42 140.34,334.99 141.20,331.00 C142.06,327.01 142.20,325.76 142.90,324.10 C143.60,322.44 143.45,322.97 144.20,323.90 C144.95,324.83 145.07,325.14 146.10,328.10 C147.13,331.06 147.50,333.80 148.60,336.60 C149.70,339.40 149.80,339.82 150.80,340.10 C151.80,340.38 151.83,340.20 152.90,337.80 C153.97,335.40 154.35,332.51 155.40,329.80 C156.45,327.09 156.35,326.95 157.40,326.20 C158.45,325.45 158.90,325.22 159.90,326.60 C160.90,327.98 160.88,329.09 161.70,332.10 C162.52,335.11 162.61,337.24 163.40,339.50 C164.19,341.76 164.31,342.20 165.10,341.80 C165.89,341.40 165.87,341.14 166.80,337.80 C167.73,334.46 168.17,330.98 169.10,327.50 C170.03,324.02 170.08,323.55 170.80,322.90 C171.52,322.25 171.41,322.30 172.20,324.70 C172.99,327.10 173.34,329.49 174.20,333.20 C175.06,336.91 175.11,338.48 175.90,340.60 C176.69,342.72 176.85,342.84 177.60,342.30 C178.35,341.76 178.75,339.23 179.10,338.30" fill="none" stroke="#bf5b1c" stroke-width="2.3" stroke-linejoin="round" stroke-linecap="round" />
<line x1="204.0" y1="444.7" x2="279.0" y2="444.7" stroke="#2a2a2a" stroke-width="1.5" />
<text x="241.6" y="440.4" font-size="14.2" text-anchor="middle" font-weight="normal" fill="#1a1a1a" color="#1a1a1a" >10 min</text>
<line x1="54.0" y1="488.0" x2="54.0" y2="588.7" stroke="#333" stroke-width="1.7" />
<line x1="54.0" y1="488.0" x2="58.0" y2="488.0" stroke="#222" stroke-width="1.3" />
<text x="52.3" y="492.8" font-size="14.2" text-anchor="end" font-weight="normal" fill="#1a1a1a" color="#1a1a1a" >1</text>
<line x1="54.0" y1="537.9" x2="58.0" y2="537.9" stroke="#222" stroke-width="1.3" />
<text x="52.3" y="542.7" font-size="14.2" text-anchor="end" font-weight="normal" fill="#1a1a1a" color="#1a1a1a" >0</text>
<line x1="54.0" y1="588.7" x2="58.0" y2="588.7" stroke="#222" stroke-width="1.3" />
<text x="52.3" y="593.5" font-size="14.2" text-anchor="end" font-weight="normal" fill="#1a1a1a" color="#1a1a1a" >-1</text>
<text x="0" y="0" font-size="13.6" text-anchor="middle" fill="#1a1a1a" color="#1a1a1a" transform="translate(14.2 534.5) rotate(-90)">Filtered (&gt;0.08Hz)</text>
<text x="0" y="0" font-size="14.0" text-anchor="middle" fill="#1a1a1a" color="#1a1a1a" transform="translate(29.3 535.3) rotate(-90)">pO<tspan font-size="10.5" dy="3.8">2</tspan><tspan dy="-3.8"> (mmHg)</tspan></text>
<polygon points="61.1,536.6 62.1,533.9 63.1,535.1 64.1,536.1 65.1,536.3 66.1,535.5 67.1,535.2 68.1,536.0 69.1,535.9 70.1,535.8 71.1,535.1 72.1,534.2 73.1,534.2 74.1,534.6 75.1,535.2 76.1,535.7 77.1,536.0 78.1,535.9 79.1,535.6 80.1,535.6 81.1,535.9 82.1,536.0 83.1,535.8 84.1,535.7 85.1,535.5 86.1,535.7 87.1,536.1 88.1,536.1 89.1,535.5 90.1,535.2 91.1,535.4 92.1,535.7 93.1,536.4 94.1,536.8 95.1,536.7 96.1,536.6 97.1,536.6 98.1,536.5 99.1,536.3 100.1,536.0 101.1,535.7 102.1,535.5 103.1,535.8 104.1,536.0 105.1,535.6 106.1,535.2 107.1,535.0 108.1,534.9 109.1,534.9 110.1,534.9 111.1,534.8 112.1,534.6 113.1,533.9 114.1,534.5 115.1,535.1 116.1,535.5 117.1,535.9 118.1,536.1 119.1,536.2 120.1,535.9 121.1,535.6 122.1,535.3 123.1,535.0 124.1,535.1 125.1,535.4 126.1,535.7 127.1,536.2 128.1,536.1 129.1,536.0 130.1,535.9 131.1,535.6 132.1,535.2 133.1,534.8 134.1,535.2 135.1,535.7 136.1,536.2 137.1,536.1 138.1,536.0 139.1,535.9 140.1,535.6 141.1,535.2 142.1,534.9 143.1,534.8 144.1,534.9 145.1,535.3 146.1,536.2 147.1,536.8 148.1,536.6 149.1,536.4 150.1,536.2 151.1,536.3 152.1,536.4 153.1,536.5 154.1,536.6 155.1,536.7 156.1,536.8 157.1,536.8 158.1,536.7 159.1,536.6 160.1,536.5 161.1,536.6 162.1,536.7 163.1,536.8 164.1,536.6 165.1,536.2 166.1,535.9 167.1,536.1 168.1,536.3 169.1,536.5 170.1,536.5 171.1,536.5 172.1,536.5 173.1,536.4 174.1,536.3 175.1,536.2 176.1,536.1 177.1,535.9 178.1,535.7 179.1,535.5 180.1,535.2 181.1,534.8 182.1,534.9 183.1,535.1 184.1,535.3 185.1,535.6 186.1,535.9 187.1,536.1 188.1,535.8 189.1,535.3 190.1,534.7 191.1,534.3 192.1,534.1 193.1,533.9 194.1,534.1 195.1,534.5 196.1,535.0 197.1,535.3 198.1,535.6 199.1,535.8 200.1,536.0 201.1,536.2 202.1,536.2 203.1,536.1 204.1,536.0 205.1,535.9 206.1,535.8 207.1,535.7 208.1,535.6 209.1,534.7 210.1,534.3 211.1,535.0 212.1,535.6 213.1,535.4 214.1,535.2 215.1,534.6 216.1,532.5 217.1,532.6 218.1,534.2 219.1,535.1 220.1,535.9 221.1,536.2 222.1,536.1 223.1,536.0 224.1,535.9 225.1,535.8 226.1,535.7 227.1,535.6 228.1,535.7 229.1,535.8 230.1,535.9 231.1,535.9 232.1,535.9 233.1,535.9 234.1,536.0 235.1,536.2 236.1,536.5 237.1,536.8 238.1,536.7 239.1,536.5 240.1,536.3 241.1,536.1 242.1,535.9 243.1,535.6 244.1,535.7 245.1,535.8 246.1,535.9 247.1,535.5 248.1,535.0 249.1,534.3 250.1,533.4 251.1,532.7 252.1,532.5 253.1,532.2 254.1,533.5 255.1,534.8 256.1,534.9 257.1,534.7 258.1,534.5 259.1,534.4 260.1,534.7 261.1,535.0 262.1,535.4 263.1,535.5 264.1,535.3 265.1,535.0 266.1,534.8 267.1,535.0 268.1,535.5 269.1,536.1 270.1,536.6 271.1,537.2 271.1,538.9 270.1,539.4 269.1,539.8 268.1,540.4 267.1,541.1 266.1,541.7 265.1,541.5 264.1,541.3 263.1,541.0 262.1,541.0 261.1,541.2 260.1,541.4 259.1,541.4 258.1,541.2 257.1,541.4 256.1,541.7 255.1,542.1 254.1,542.5 253.1,543.3 252.1,544.2 251.1,543.2 250.1,542.0 249.1,541.2 248.1,540.8 247.1,540.5 246.1,540.3 245.1,540.1 244.1,540.0 243.1,540.1 242.1,540.3 241.1,540.5 240.1,540.3 239.1,540.0 238.1,539.6 237.1,539.4 236.1,539.6 235.1,539.9 234.1,540.2 233.1,540.2 232.1,540.1 231.1,540.0 230.1,540.0 229.1,540.1 228.1,540.2 227.1,540.2 226.1,540.3 225.1,540.4 224.1,540.5 223.1,540.6 222.1,540.6 221.1,540.6 220.1,540.9 219.1,541.7 218.1,542.6 217.1,543.8 216.1,544.7 215.1,542.8 214.1,541.8 213.1,541.0 212.1,540.8 211.1,541.2 210.1,541.4 209.1,541.1 208.1,540.8 207.1,540.7 206.1,540.5 205.1,540.3 204.1,540.3 203.1,540.4 202.1,540.5 201.1,540.6 200.1,540.8 199.1,541.0 198.1,541.2 197.1,541.3 196.1,541.4 195.1,541.7 194.1,542.0 193.1,542.1 192.1,541.8 191.1,541.5 190.1,541.2 189.1,541.0 188.1,540.9 187.1,540.8 186.1,540.8 185.1,540.9 184.1,540.9 183.1,541.1 182.1,541.2 181.1,541.4 180.1,541.5 179.1,541.2 178.1,540.9 177.1,540.7 176.1,540.6 175.1,540.5 174.1,540.5 173.1,540.5 172.1,540.5 171.1,540.5 170.1,540.4 169.1,540.3 168.1,540.2 167.1,540.1 166.1,540.0 165.1,539.9 164.1,539.9 163.1,540.0 162.1,540.0 161.1,540.1 160.1,540.1 159.1,540.1 158.1,540.1 157.1,540.1 156.1,540.0 155.1,539.9 154.1,539.9 153.1,540.0 152.1,540.1 151.1,540.1 150.1,540.1 149.1,540.1 148.1,540.1 147.1,540.2 146.1,540.3 145.1,540.4 144.1,540.7 143.1,541.0 142.1,541.4 141.1,541.5 140.1,541.2 139.1,540.8 138.1,540.5 137.1,540.5 136.1,540.5 135.1,540.5 134.1,540.5 133.1,540.6 132.1,540.7 131.1,540.7 130.1,540.6 129.1,540.5 128.1,540.4 127.1,540.2 126.1,540.1 125.1,539.9 124.1,540.1 123.1,540.3 122.1,540.5 121.1,540.3 120.1,540.1 119.1,540.0 118.1,540.1 117.1,540.2 116.1,540.5 115.1,540.8 114.1,541.2 113.1,541.6 112.1,541.9 111.1,541.5 110.1,541.0 109.1,540.7 108.1,540.5 107.1,540.3 106.1,540.3 105.1,540.4 104.1,540.4 103.1,540.2 102.1,540.0 101.1,540.2 100.1,540.5 99.1,540.3 98.1,540.1 97.1,539.9 96.1,539.8 95.1,539.7 94.1,539.8 93.1,539.9 92.1,540.4 91.1,541.1 90.1,541.3 89.1,541.2 88.1,541.0 87.1,540.9 86.1,540.7 85.1,540.6 84.1,540.6 83.1,540.7 82.1,540.8 81.1,540.8 80.1,540.8 79.1,540.7 78.1,540.6 77.1,540.6 76.1,540.7 75.1,541.0 74.1,541.6 73.1,542.0 72.1,541.6 71.1,541.2 70.1,541.0 69.1,540.7 68.1,540.5 67.1,540.4 66.1,540.2 65.1,540.4 64.1,540.5 63.1,540.9 62.1,541.5 61.1,542.2" fill="#0404f6"/>
<path d="M61.10,535.77V544.58M61.90,530.35V543.44M62.70,532.09V542.82M63.50,535.15V542.18M64.30,534.90V542.13M65.10,535.96V541.27M65.90,535.20V541.78M66.70,532.70V540.50M67.50,533.34V542.19M68.30,534.65V541.99M69.10,535.33V540.77M69.90,534.48V541.26M70.70,534.60V542.12M71.50,534.53V543.08M72.30,531.96V544.32M73.10,531.98V544.46M73.90,532.33V544.02M74.70,533.28V542.40M75.50,533.26V542.87M76.30,533.88V542.32M77.10,535.03V541.36M77.90,535.00V540.92M78.70,533.90V541.83M79.50,533.40V541.93M80.30,533.69V542.71M81.10,536.09V541.63M81.90,534.29V542.16M82.70,534.02V541.99M83.50,535.41V542.20M84.30,533.84V541.45M85.10,535.05V541.61M85.90,533.48V542.43M86.70,535.43V541.74M87.50,535.91V541.29M88.30,534.32V541.89M89.10,533.92V542.71M89.90,534.29V543.40M90.70,534.63V543.43M91.50,534.81V542.12M92.30,535.09V541.03M93.10,534.96V541.14M93.90,536.32V541.03M94.70,536.29V540.42M95.50,535.48V540.76M96.30,536.29V541.19M97.10,536.08V540.58M97.90,535.48V540.90M98.70,535.65V540.58M99.50,535.79V541.77M100.30,535.12V541.75M101.10,534.53V541.21M101.90,533.25V540.91M102.70,534.17V541.59M103.50,535.23V540.86M104.30,534.16V542.13M105.10,534.62V541.13M105.90,533.16V542.06M106.70,534.11V541.91M107.50,532.52V541.66M108.30,533.25V540.98M109.10,534.61V542.67M109.90,533.74V542.75M110.70,533.57V543.53M111.50,532.59V543.01M112.30,533.48V544.42M113.10,533.25V542.73M113.90,532.02V543.51M114.70,532.85V542.02M115.50,532.92V541.47M116.30,535.50V541.24M117.10,534.66V540.47M117.90,535.47V541.00M118.70,535.17V540.46M119.50,535.16V541.37M120.30,533.97V541.39M121.10,533.90V541.54M121.90,534.66V540.60M122.70,535.02V542.17M123.50,532.73V541.86M124.30,535.02V541.19M125.10,533.84V541.01M125.90,534.59V541.50M126.70,535.66V541.30M127.50,534.80V541.94M128.30,534.67V541.97M129.10,534.47V542.33M129.90,534.94V542.17M130.70,533.96V542.51M131.50,534.10V542.53M132.30,532.80V542.15M133.10,532.63V541.74M133.90,533.24V541.98M134.70,535.09V541.92M135.50,534.12V542.17M136.30,534.81V541.53M137.10,534.67V541.81M137.90,534.91V542.13M138.70,535.55V542.38M139.50,535.63V542.63M140.30,534.05V542.27M141.10,533.24V543.32M141.90,532.92V543.96M142.70,533.49V541.17M143.50,533.50V542.63M144.30,533.93V541.27M145.10,533.13V541.85M145.90,534.87V541.97M146.70,536.00V541.59M147.50,536.25V541.17M148.30,535.38V541.62M149.10,535.07V541.04M149.90,535.11V540.93M150.70,535.79V541.18M151.50,534.94V541.53M152.30,535.18V541.51M153.10,535.79V540.48M153.90,535.67V540.57M154.70,536.09V540.68M155.50,535.75V540.87M156.30,536.18V541.33M157.10,535.66V541.04M157.90,536.48V540.26M158.70,535.44V540.31M159.50,535.43V541.27M160.30,535.83V541.51M161.10,536.55V540.60M161.90,535.89V540.16M162.70,535.71V540.62M163.50,536.40V540.11M164.30,535.41V540.71M165.10,534.98V541.01M165.90,534.33V541.39M166.70,534.59V540.62M167.50,535.13V540.67M168.30,536.38V541.24M169.10,535.34V540.87M169.90,535.84V541.30M170.70,535.36V541.68M171.50,535.44V542.03M172.30,535.65V542.07M173.10,535.03V540.86M173.90,534.89V541.99M174.70,535.82V541.68M175.50,534.95V542.38M176.30,535.05V542.06M177.10,534.16V542.48M177.90,533.83V542.22M178.70,533.95V542.01M179.50,533.41V543.65M180.30,533.11V543.93M181.10,533.73V543.95M181.90,532.13V543.78M182.70,533.20V543.22M183.50,533.94V543.19M184.30,533.29V542.15M185.10,535.16V542.21M185.90,534.43V542.58M186.70,534.86V540.93M187.50,534.69V541.22M188.30,533.94V541.71M189.10,534.02V543.02M189.90,534.01V541.92M190.70,532.27V543.57M191.50,531.28V543.92M192.30,530.75V543.89M193.10,530.42V542.81M193.90,532.61V544.25M194.70,532.83V544.28M195.50,532.49V543.46M196.30,532.70V543.17M197.10,534.11V542.69M197.90,533.63V543.48M198.70,534.94V543.17M199.50,534.02V542.44M200.30,534.72V541.57M201.10,535.00V541.96M201.90,534.93V540.66M202.70,534.43V541.69M203.50,535.00V541.91M204.30,534.67V541.41M205.10,534.38V540.61M205.90,534.46V541.56M206.70,533.80V542.46M207.50,534.71V542.09M208.30,534.79V542.27M209.10,532.16V543.39M209.90,531.97V542.69M210.70,533.63V543.35M211.50,532.97V541.70M212.30,533.67V540.81M213.10,534.51V541.92M213.90,533.24V543.08M214.70,533.63V544.82M215.50,532.82V547.27M216.30,530.62V548.47M217.10,530.52V545.55M217.90,531.39V545.15M218.70,533.15V543.92M219.50,533.81V542.24M220.30,535.37V542.32M221.10,534.88V541.91M221.90,534.54V542.03M222.70,534.42V541.39M223.50,534.44V542.29M224.30,534.13V541.50M225.10,534.83V542.20M225.90,534.93V542.13M226.70,533.72V540.79M227.50,534.74V541.59M228.30,534.80V540.52M229.10,534.03V541.02M229.90,534.21V540.44M230.70,534.85V541.14M231.50,535.88V540.61M232.30,534.46V541.57M233.10,534.13V540.59M233.90,534.69V541.65M234.70,534.99V541.25M235.50,535.78V540.05M236.30,536.22V539.70M237.10,535.94V540.01M237.90,535.84V539.86M238.70,536.09V540.34M239.50,535.12V541.68M240.30,534.79V540.84M241.10,535.83V542.32M241.90,534.69V541.87M242.70,534.62V541.27M243.50,534.24V541.01M244.30,534.24V540.02M245.10,534.23V541.58M245.90,535.23V541.37M246.70,534.02V541.51M247.50,534.38V541.22M248.30,532.97V540.96M249.10,531.22V543.45M249.90,530.47V544.40M250.70,529.55V544.89M251.50,529.21V546.68M252.30,527.73V548.21M253.10,529.98V547.34M253.90,529.78V545.87M254.70,531.36V544.23M255.50,532.50V544.81M256.30,532.61V544.09M257.10,532.26V542.90M257.90,532.11V541.67M258.70,532.80V543.00M259.50,534.42V542.92M260.30,532.53V543.38M261.10,533.94V543.57M261.90,533.49V542.23M262.70,533.90V542.46M263.50,533.80V542.46M264.30,532.78V543.29M265.10,532.91V543.87M265.90,532.13V541.91M266.70,532.58V543.48M267.50,534.06V542.07M268.30,535.32V540.93M269.10,535.05V540.14M269.90,535.89V540.44M270.70,536.25V539.60M271.50,536.81V539.06" stroke="#0404f6" stroke-width="1.3" fill="none"/>
<path d="M61.1,538.2V535.3M61.9,538.2V530.2M62.6,538.2V530.7M63.6,538.2V534.3M65.2,538.2V534.8M66.7,538.2V532.2M68.2,538.2V534.3M70.3,538.2V533.8M72.3,538.2V530.7M73.8,538.2V531.2M75.4,538.2V533.2M77.4,538.2V534.3M79.5,538.2V533.2M81.5,538.2V534.3M83.5,538.2V533.8M85.6,538.2V533.2M87.6,538.2V534.8M89.7,538.2V532.7M91.7,538.2V533.2M93.8,538.2V535.8M95.8,538.2V535.3M97.9,538.2V535.3M99.9,538.2V534.3M101.9,538.2V533.2M104.0,538.2V534.3M106.0,538.2V532.7M108.1,538.2V532.2M110.1,538.2V532.2M112.2,538.2V531.7M113.2,538.2V530.2M114.7,538.2V532.2M116.8,538.2V533.8M118.8,538.2V534.8M123.4,538.2V532.2M125.4,538.2V533.2M127.2,538.2V534.6M130.5,538.2V534.0M133.2,538.2V531.9M136.0,538.2V534.6M139.2,538.2V534.0M142.5,538.2V531.9M144.7,538.2V532.4M146.9,538.2V535.7M150.2,538.2V534.6M153.5,538.2V535.1M156.8,538.2V535.7M160.0,538.2V535.1M163.3,538.2V535.7M166.1,538.2V534.0M168.8,538.2V535.1M172.1,538.2V535.1M175.4,538.2V534.6M178.7,538.2V533.5M181.4,538.2V531.9M184.1,538.2V533.0M187.4,538.2V534.6M190.7,538.2V531.3M193.4,538.2V530.2M196.2,538.2V532.4M198.0,538.2V533.5M201.4,538.2V534.6M204.7,538.2V534.1M208.1,538.2V533.5M209.8,538.2V530.7M212.0,538.2V533.5M214.9,538.2V532.4M216.5,538.2V526.2M218.2,538.2V531.2M220.5,538.2V534.6M223.9,538.2V534.1M227.2,538.2V533.5M230.6,538.2V534.1M234.0,538.2V534.1M237.3,538.2V535.7M240.7,538.2V534.6M243.0,538.2V533.5M246.3,538.2V534.1M248.6,538.2V531.8M250.8,538.2V528.4M253.1,538.2V527.3M255.3,538.2V532.4M259.3,538.2V531.2M262.6,538.2V533.5M266.6,538.2V531.8M269.4,538.2V534.6M271.6,538.2V536.9M61.1,538.2V545.5M62.6,538.2V543.5M64.1,538.2V542.4M66.2,538.2V541.9M68.2,538.2V542.4M70.8,538.2V543.5M73.3,538.2V545.3M75.4,538.2V542.9M77.4,538.2V542.4M80.0,538.2V542.9M82.5,538.2V542.9M84.6,538.2V542.4M86.6,538.2V542.9M88.7,538.2V543.5M90.7,538.2V544.0M92.7,538.2V541.4M94.8,538.2V540.9M97.3,538.2V541.4M99.9,538.2V542.4M101.9,538.2V541.4M104.5,538.2V542.4M107.0,538.2V541.9M109.6,538.2V542.9M112.2,538.2V545.0M114.2,538.2V543.5M116.8,538.2V541.9M119.3,538.2V541.4M122.4,538.2V542.4M125.0,538.2V541.2M128.3,538.2V542.3M131.6,538.2V542.8M134.9,538.2V542.3M138.1,538.2V542.3M141.4,538.2V544.4M144.7,538.2V542.3M148.0,538.2V541.7M151.3,538.2V541.7M154.6,538.2V541.2M157.8,538.2V541.7M161.1,538.2V541.7M164.4,538.2V541.2M167.7,538.2V541.7M171.0,538.2V542.3M174.3,538.2V542.3M177.6,538.2V542.8M180.3,538.2V544.4M183.0,538.2V543.4M186.3,538.2V542.8M189.6,538.2V543.4M193.4,538.2V545.5M196.2,538.2V543.9M198.0,538.2V543.6M201.4,538.2V542.5M204.7,538.2V541.9M208.1,538.2V543.0M210.4,538.2V544.2M212.6,538.2V542.5M214.9,538.2V545.9M216.2,538.2V550.4M218.2,538.2V545.9M220.5,538.2V542.5M223.9,538.2V542.5M227.2,538.2V541.9M230.6,538.2V541.4M234.0,538.2V541.9M237.3,538.2V540.2M240.7,538.2V542.5M244.1,538.2V541.4M247.5,538.2V542.5M249.7,538.2V544.2M252.0,538.2V549.2M254.2,538.2V545.9M257.6,538.2V543.6M259.8,538.2V544.2M262.6,538.2V543.0M266.0,538.2V544.7M268.8,538.2V541.4M271.6,538.2V539.1" stroke="#0404f6" stroke-width="1.6" fill="none"/>
<rect x="104.6" y="448.9" width="75.4" height="49.6" fill="none" stroke="#000" stroke-width="1.6"/>
<polyline points="104.6,498.5 121.1,505.8 129.0,505.8 180.0,498.5" fill="none" stroke="#000" stroke-width="1.3" stroke-linejoin="round"/>
<rect x="121.1" y="505.8" width="7.9" height="65.4" fill="none" stroke="#000" stroke-width="1.4"/>
<path d="M105.00,475.40 C105.80,473.73 105.97,471.67 107.40,470.40 C108.83,469.13 107.83,469.73 109.30,471.60 C110.77,473.47 110.03,473.70 111.80,476.00 C113.57,478.30 112.73,479.33 114.60,478.50 C116.47,477.67 115.43,476.50 117.40,473.50 C119.37,470.50 118.87,470.13 120.50,469.50 C122.13,468.87 120.87,469.10 122.30,471.60 C123.73,474.10 123.13,475.47 124.80,477.00 C126.47,478.53 125.63,477.43 127.30,476.20 C128.97,474.97 128.13,474.00 129.80,473.30 C131.47,472.60 130.23,474.10 132.30,474.10 C134.37,474.10 133.53,473.70 136.00,473.30 C138.47,472.90 137.23,472.50 139.70,472.90 C142.17,473.30 141.13,473.57 143.40,474.50 C145.67,475.43 144.43,475.63 146.50,475.70 C148.57,475.77 147.73,475.77 149.60,474.70 C151.47,473.63 150.43,473.23 152.10,472.50 C153.77,471.77 152.93,471.97 154.60,472.50 C156.27,473.03 155.23,472.43 157.10,474.10 C158.97,475.77 158.13,477.77 160.20,477.50 C162.27,477.23 161.23,475.53 163.30,473.30 C165.37,471.07 164.53,470.93 166.40,470.80 C168.27,470.67 167.27,471.17 168.90,472.90 C170.53,474.63 169.47,474.90 171.30,476.00 C173.13,477.10 172.53,476.70 174.40,476.20 C176.27,475.70 175.43,476.03 176.90,474.50 C178.37,472.97 178.17,472.57 178.80,471.60" fill="none" stroke="#0404f6" stroke-width="2.3" stroke-linejoin="round" stroke-linecap="round" />
<line x1="204.0" y1="587.2" x2="279.0" y2="587.2" stroke="#2a2a2a" stroke-width="1.5" />
<text x="241.6" y="583.1" font-size="14.2" text-anchor="middle" font-weight="normal" fill="#1a1a1a" color="#1a1a1a" >10 min</text>
<polygon points="360.7,150.2 362.5,131.9 364.8,125.0 367.8,121.1 370.0,124.2 372.3,130.3 374.5,134.2 377.5,137.1 380.5,140.7 384.3,148.2 387.3,146.4 389.9,146.8 392.6,152.5 394.8,156.3 397.1,155.6 400.1,160.2 403.1,163.7 406.8,167.1 410.6,169.2 414.3,171.3 418.1,174.1 421.8,177.6 423.0,182.5 426.0,188.6 429.0,191.8 432.0,195.6 435.0,198.7 438.0,200.3 441.0,203.8 444.0,207.3 447.0,208.4 450.0,214.3 453.0,219.3 456.0,223.5 459.1,228.4 462.1,233.2 465.1,236.5 468.1,239.0 471.8,240.3 475.6,240.3 478.6,241.2 481.6,242.1 486.1,243.1 486.1,250.9 481.6,249.8 478.6,248.6 475.6,247.4 471.8,248.4 468.1,248.0 465.1,246.4 462.1,242.3 459.1,236.8 456.0,231.3 453.0,227.3 450.0,222.6 447.0,217.0 444.0,215.3 441.0,211.3 438.0,207.2 435.0,205.5 432.0,202.2 429.0,198.2 426.0,196.2 423.0,191.2 421.8,187.4 418.1,184.4 414.3,182.1 410.6,180.6 406.8,177.7 403.1,173.5 400.1,169.3 397.1,164.0 394.8,164.2 392.6,159.7 389.9,153.7 387.3,153.0 384.3,154.5 380.5,148.9 377.5,147.0 374.5,145.9 372.3,142.2 370.0,136.2 367.8,133.3 364.8,135.4 362.5,140.4 360.7,156.8" fill="#d28c46" fill-opacity="0.5" stroke="none"/>
<polygon points="360.7,138.2 362.5,132.2 364.0,128.5 367.0,130.0 370.0,132.0 372.3,138.6 374.5,142.2 377.5,144.4 381.3,150.4 385.0,156.3 387.3,162.7 390.3,163.1 393.3,165.8 397.1,172.0 400.1,175.1 403.1,174.8 406.1,177.6 409.8,183.0 412.8,185.4 415.8,188.1 419.6,190.9 423.0,193.8 426.8,196.4 429.8,194.5 432.8,200.0 435.0,205.3 438.0,208.3 441.8,211.3 444.0,215.9 446.3,222.6 448.5,225.6 450.8,225.6 453.0,232.2 455.8,241.1 458.3,234.6 460.6,236.5 463.6,239.1 466.6,242.2 470.3,244.5 474.1,246.8 477.8,247.1 481.6,245.8 483.8,246.8 486.1,250.2 486.1,260.2 483.8,256.6 481.6,254.7 477.8,255.0 474.1,253.8 470.3,251.9 466.6,249.9 463.6,247.2 460.6,244.7 458.3,242.9 455.8,249.5 453.0,241.1 450.8,235.1 448.5,235.7 446.3,233.3 444.0,227.1 441.8,223.1 438.0,219.4 435.0,215.6 432.8,209.6 429.8,203.5 426.8,204.9 423.0,201.8 419.6,199.6 415.8,197.5 412.8,195.5 409.8,192.6 406.1,186.7 403.1,183.3 400.1,183.8 397.1,180.8 393.3,174.9 390.3,171.4 387.3,170.2 385.0,163.1 381.3,157.3 377.5,151.6 374.5,149.6 372.3,147.5 370.0,142.3 367.0,141.8 364.0,140.9 362.5,145.2 360.7,151.8" fill="#3c3cff" fill-opacity="0.36" stroke="none"/>
<line x1="410.9" y1="102.0" x2="410.9" y2="275.6" stroke="#222" stroke-width="1.2" stroke-dasharray="1.3 1.2"/>
<polyline points="360.7,153.3 362.5,136.0 364.8,130.0 367.8,127.0 370.0,130.0 372.3,136.0 374.5,139.8 377.5,142.0 380.5,145.0 384.3,151.8 387.3,150.3 389.9,151.0 392.6,157.0 394.8,160.8 397.1,160.0 400.1,164.6 403.1,168.3 406.8,172.0 410.6,174.3 414.3,176.6 418.1,179.6 421.8,183.3 423.0,187.3 426.0,192.5 429.0,194.8 432.0,198.5 435.0,201.5 438.0,203.0 441.0,207.6 444.0,212.1 447.0,214.3 450.0,219.6 453.0,224.1 456.0,227.8 459.1,233.1 462.1,238.3 465.1,242.1 468.1,243.6 471.8,243.9 475.6,242.9 478.6,244.4 481.6,245.9 486.1,247.4" fill="none" stroke="#bf5b1c" stroke-width="2.4" stroke-linejoin="round" stroke-linecap="round" />
<polyline points="360.7,145.0 362.5,139.0 364.0,135.3 367.0,136.8 370.0,137.5 372.3,142.8 374.5,145.0 377.5,147.3 381.3,153.3 385.0,159.3 387.3,166.8 390.3,168.3 393.3,172.1 397.1,178.1 400.1,181.1 403.1,180.6 406.1,183.3 409.8,188.6 412.8,190.9 415.8,193.1 419.6,195.4 423.0,197.8 426.8,200.8 429.8,199.3 432.8,205.3 435.0,210.6 438.0,213.6 441.8,216.6 444.0,221.1 446.3,227.8 448.5,230.8 450.8,230.1 453.0,236.1 455.8,244.4 458.3,238.3 460.6,240.6 463.6,243.6 466.6,246.6 470.3,248.9 474.1,251.1 477.8,251.9 481.6,251.1 483.8,252.6 486.1,256.4" fill="none" stroke="#0404f6" stroke-width="2.4" stroke-linejoin="round" stroke-linecap="round" />
<line x1="360.9" y1="101.0" x2="360.9" y2="277.0" stroke="#1a1a1a" stroke-width="1.6" />
<line x1="360.1" y1="101.7" x2="485.9" y2="101.7" stroke="#111" stroke-width="1.5" />
<line x1="356.9" y1="126.1" x2="360.9" y2="126.1" stroke="#111" stroke-width="1.4" />
<text x="356.4" y="130.7" font-size="14.2" text-anchor="end" font-weight="normal" fill="#1a1a1a" color="#1a1a1a" >20</text>
<line x1="356.9" y1="176.2" x2="360.9" y2="176.2" stroke="#111" stroke-width="1.4" />
<text x="356.4" y="180.8" font-size="14.2" text-anchor="end" font-weight="normal" fill="#1a1a1a" color="#1a1a1a" >0</text>
<line x1="356.9" y1="226.3" x2="360.9" y2="226.3" stroke="#111" stroke-width="1.4" />
<text x="356.4" y="230.9" font-size="14.2" text-anchor="end" font-weight="normal" fill="#1a1a1a" color="#1a1a1a" >-20</text>
<line x1="356.9" y1="276.4" x2="360.9" y2="276.4" stroke="#111" stroke-width="1.4" />
<text x="356.4" y="281.0" font-size="14.2" text-anchor="end" font-weight="normal" fill="#1a1a1a" color="#1a1a1a" >-40</text>
<line x1="360.9" y1="98.0" x2="360.9" y2="101.7" stroke="#111" stroke-width="1.4" />
<text x="360.9" y="94.2" font-size="14.2" text-anchor="middle" font-weight="normal" fill="#1a1a1a" color="#1a1a1a" >0.0</text>
<line x1="423.4" y1="98.0" x2="423.4" y2="101.7" stroke="#111" stroke-width="1.4" />
<text x="423.4" y="94.2" font-size="14.2" text-anchor="middle" font-weight="normal" fill="#1a1a1a" color="#1a1a1a" >0.1</text>
<line x1="485.9" y1="98.0" x2="485.9" y2="101.7" stroke="#111" stroke-width="1.4" />
<text x="485.9" y="94.2" font-size="14.2" text-anchor="middle" font-weight="normal" fill="#1a1a1a" color="#1a1a1a" >0.2</text>
<text x="423.5" y="75.6" font-size="14.0" text-anchor="middle" font-weight="normal" fill="#1a1a1a" color="#1a1a1a" >Frequency (Hz)</text>
<text x="0" y="0" font-size="13.8" text-anchor="middle" fill="#1a1a1a" color="#1a1a1a" transform="translate(328.6 186.2) rotate(-90)">Power Spectral Density (dB)</text>
<line x1="421.3" y1="122.1" x2="436.9" y2="122.1" stroke="#bf5b1c" stroke-width="2.4" />
<line x1="421.3" y1="136.3" x2="436.9" y2="136.3" stroke="#0404f6" stroke-width="2.4" />
<text x="444.1" y="126.6" font-size="14.0" text-anchor="start" font-weight="normal" fill="#1a1a1a" color="#1a1a1a" >GAERS</text>
<text x="444.1" y="140.8" font-size="14.0" text-anchor="start" font-weight="normal" fill="#1a1a1a" color="#1a1a1a" >NEC</text>
<polyline points="411.1,167.6 411.1,163.1 423.7,163.1 423.7,167.6" fill="none" stroke="#000" stroke-width="1.4"/>
<text x="0" y="0" font-size="22" font-weight="bold" text-anchor="middle" fill="#000" color="#000" transform="translate(417.3 168.5) scale(0.92 1.12)">*</text>
<polygon points="550.0,168.6 551.8,148.7 553.3,139.2 555.2,134.3 557.8,135.3 560.0,137.7 562.3,141.0 564.5,143.0 567.2,141.8 569.8,144.5 572.0,147.6 574.3,155.1 576.5,157.3 578.8,159.5 581.0,166.2 584.1,169.2 586.3,167.8 588.6,170.9 590.8,174.6 593.1,177.4 596.1,179.3 599.8,180.5 602.8,184.3 606.6,190.2 610.0,191.9 613.0,199.4 616.0,204.1 619.0,206.3 622.0,209.1 625.0,211.1 628.0,213.1 631.0,216.0 634.0,222.0 637.0,225.7 640.0,229.7 643.0,232.2 646.0,233.2 649.0,238.2 652.1,241.7 655.1,240.6 658.1,242.7 661.1,244.7 664.1,245.3 667.1,247.4 670.1,249.6 673.1,249.4 675.3,248.1 675.3,256.6 673.1,256.7 670.1,258.2 667.1,257.4 664.1,256.6 661.1,255.5 658.1,253.1 655.1,250.5 652.1,252.2 649.0,249.4 646.0,245.1 643.0,243.4 640.0,240.2 637.0,235.5 634.0,232.2 631.0,226.6 628.0,224.0 625.0,221.6 622.0,219.1 619.0,215.8 616.0,212.5 613.0,206.8 610.0,198.2 606.6,197.7 602.8,192.8 599.8,190.2 596.1,188.3 593.1,185.6 590.8,182.2 588.6,178.7 586.3,175.9 584.1,177.7 581.0,174.5 578.8,167.6 576.5,165.1 574.3,163.7 572.0,157.0 569.8,154.7 567.2,151.8 564.5,152.7 562.3,150.5 560.0,147.2 557.8,144.7 555.2,143.6 553.3,148.6 551.8,158.1 550.0,178.1" fill="#d28c46" fill-opacity="0.5" stroke="none"/>
<polygon points="550.0,140.7 551.8,132.6 553.3,128.3 554.8,126.9 556.7,130.3 559.3,138.1 561.5,146.8 563.0,151.6 565.3,151.2 568.3,155.3 571.3,159.9 573.5,164.6 576.5,163.9 579.5,167.2 582.6,170.4 585.6,172.2 588.6,173.0 591.6,174.4 594.6,179.0 596.8,182.1 599.8,181.6 602.8,184.0 605.1,187.0 608.1,192.4 611.1,196.1 612.3,201.6 615.3,206.2 618.3,207.7 621.3,211.1 624.3,213.6 627.3,215.3 630.3,217.2 633.3,221.4 635.5,227.0 637.8,225.6 640.0,231.1 642.3,235.7 645.3,241.1 648.3,242.7 650.6,245.8 652.8,247.2 655.1,244.0 657.3,243.1 659.6,246.5 661.8,248.5 664.1,245.9 667.1,249.1 670.1,250.0 673.1,249.4 675.3,247.9 675.3,258.7 673.1,260.6 670.1,261.9 667.1,261.5 664.1,259.0 661.8,260.6 659.6,257.7 657.3,253.3 655.1,252.9 652.8,254.6 650.6,251.9 648.3,249.5 645.3,248.5 642.3,243.8 640.0,238.8 637.8,233.1 635.5,234.2 633.3,229.5 630.3,226.1 627.3,225.1 624.3,223.2 621.3,220.4 618.3,216.9 615.3,216.1 612.3,212.2 611.1,207.4 608.1,202.9 605.1,196.8 602.8,193.1 599.8,192.0 596.8,193.9 594.6,192.1 591.6,186.7 588.6,184.5 585.6,183.0 582.6,180.5 579.5,176.6 576.5,172.6 573.5,173.3 571.3,168.6 568.3,164.0 565.3,159.7 563.0,160.0 561.5,155.1 559.3,145.8 556.7,137.4 554.8,133.5 553.3,135.8 551.8,141.2 550.0,150.4" fill="#3c3cff" fill-opacity="0.36" stroke="none"/>
<line x1="600.0" y1="102.0" x2="600.0" y2="275.6" stroke="#222" stroke-width="1.2" stroke-dasharray="1.3 1.2"/>
<polyline points="550.0,172.1 551.8,152.6 553.3,143.5 555.2,139.0 557.8,139.8 560.0,142.0 562.3,145.0 564.5,147.3 567.2,146.5 569.8,149.5 572.0,152.6 574.3,160.1 576.5,162.3 578.8,163.8 581.0,169.8 584.1,172.1 586.3,170.6 588.6,173.6 590.8,177.3 593.1,181.1 596.1,184.1 599.8,186.4 602.8,189.4 606.6,194.6 610.0,195.5 613.0,203.0 616.0,207.6 619.0,209.8 622.0,213.6 625.0,216.6 628.0,219.6 631.0,221.8 634.0,227.1 637.0,230.1 640.0,234.6 643.0,237.6 646.0,239.1 649.0,243.6 652.1,246.6 655.1,245.1 658.1,247.4 661.1,249.6 664.1,250.4 667.1,251.9 670.1,253.4 673.1,252.6 675.3,251.9" fill="none" stroke="#bf5b1c" stroke-width="2.4" stroke-linejoin="round" stroke-linecap="round" />
<polyline points="550.0,144.3 551.8,136.0 553.3,131.5 554.8,130.0 556.7,133.8 559.3,142.0 561.5,151.1 563.0,155.6 565.3,154.8 568.3,158.6 571.3,163.1 573.5,167.6 576.5,166.8 579.5,170.6 582.6,174.3 585.6,176.6 588.6,178.1 591.6,180.3 594.6,185.6 596.8,188.6 599.8,187.9 602.8,190.1 605.1,193.1 608.1,198.4 611.1,202.1 612.3,206.8 615.3,210.6 618.3,211.3 621.3,215.1 624.3,218.1 627.3,220.3 630.3,221.8 633.3,225.6 635.5,230.8 637.8,229.3 640.0,234.6 642.3,239.1 645.3,244.4 648.3,245.9 650.6,248.9 652.8,250.4 655.1,247.4 657.3,246.6 659.6,251.1 661.8,254.1 664.1,252.6 667.1,255.6 670.1,256.4 673.1,255.6 675.3,254.1" fill="none" stroke="#0404f6" stroke-width="2.4" stroke-linejoin="round" stroke-linecap="round" />
<line x1="550.0" y1="101.0" x2="550.0" y2="277.0" stroke="#1a1a1a" stroke-width="1.6" />
<line x1="549.2" y1="101.7" x2="675.0" y2="101.7" stroke="#111" stroke-width="1.5" />
<line x1="546.0" y1="126.1" x2="550.0" y2="126.1" stroke="#111" stroke-width="1.4" />
<text x="545.5" y="130.7" font-size="14.2" text-anchor="end" font-weight="normal" fill="#1a1a1a" color="#1a1a1a" >20</text>
<line x1="546.0" y1="176.2" x2="550.0" y2="176.2" stroke="#111" stroke-width="1.4" />
<text x="545.5" y="180.8" font-size="14.2" text-anchor="end" font-weight="normal" fill="#1a1a1a" color="#1a1a1a" >0</text>
<line x1="546.0" y1="226.3" x2="550.0" y2="226.3" stroke="#111" stroke-width="1.4" />
<text x="545.5" y="230.9" font-size="14.2" text-anchor="end" font-weight="normal" fill="#1a1a1a" color="#1a1a1a" >-20</text>
<line x1="546.0" y1="276.4" x2="550.0" y2="276.4" stroke="#111" stroke-width="1.4" />
<text x="545.5" y="281.0" font-size="14.2" text-anchor="end" font-weight="normal" fill="#1a1a1a" color="#1a1a1a" >-40</text>
<line x1="550.0" y1="98.0" x2="550.0" y2="101.7" stroke="#111" stroke-width="1.4" />
<text x="550.0" y="94.2" font-size="14.2" text-anchor="middle" font-weight="normal" fill="#1a1a1a" color="#1a1a1a" >0.0</text>
<line x1="612.5" y1="98.0" x2="612.5" y2="101.7" stroke="#111" stroke-width="1.4" />
<text x="612.5" y="94.2" font-size="14.2" text-anchor="middle" font-weight="normal" fill="#1a1a1a" color="#1a1a1a" >0.1</text>
<line x1="675.0" y1="98.0" x2="675.0" y2="101.7" stroke="#111" stroke-width="1.4" />
<text x="675.0" y="94.2" font-size="14.2" text-anchor="middle" font-weight="normal" fill="#1a1a1a" color="#1a1a1a" >0.2</text>
<text x="612.6" y="75.6" font-size="14.0" text-anchor="middle" font-weight="normal" fill="#1a1a1a" color="#1a1a1a" >Frequency (Hz)</text>
<text x="0" y="0" font-size="13.8" text-anchor="middle" fill="#1a1a1a" color="#1a1a1a" transform="translate(517.7 186.2) rotate(-90)">Power Spectral Density (dB)</text>
<line x1="610.4" y1="122.1" x2="626.0" y2="122.1" stroke="#bf5b1c" stroke-width="2.4" />
<line x1="610.4" y1="136.3" x2="626.0" y2="136.3" stroke="#0404f6" stroke-width="2.4" />
<text x="633.2" y="126.6" font-size="14.0" text-anchor="start" font-weight="normal" fill="#1a1a1a" color="#1a1a1a" >GAERS</text>
<text x="633.2" y="140.8" font-size="14.0" text-anchor="start" font-weight="normal" fill="#1a1a1a" color="#1a1a1a" >NEC</text>
<line x1="361.2" y1="375.8" x2="361.2" y2="551.6" stroke="#2a2a2a" stroke-width="1.7" />
<line x1="360.4" y1="550.8" x2="435.6" y2="550.8" stroke="#2a2a2a" stroke-width="1.7" />
<line x1="357.2" y1="550.8" x2="361.2" y2="550.8" stroke="#2a2a2a" stroke-width="1.5" />
<text x="355.7" y="555.4" font-size="14.2" text-anchor="end" font-weight="normal" fill="#1a1a1a" color="#1a1a1a" >0.00</text>
<line x1="357.2" y1="507.0" x2="361.2" y2="507.0" stroke="#2a2a2a" stroke-width="1.5" />
<text x="355.7" y="511.6" font-size="14.2" text-anchor="end" font-weight="normal" fill="#1a1a1a" color="#1a1a1a" >0.05</text>
<line x1="357.2" y1="463.3" x2="361.2" y2="463.3" stroke="#2a2a2a" stroke-width="1.5" />
<text x="355.7" y="467.9" font-size="14.2" text-anchor="end" font-weight="normal" fill="#1a1a1a" color="#1a1a1a" >0.10</text>
<line x1="357.2" y1="419.5" x2="361.2" y2="419.5" stroke="#2a2a2a" stroke-width="1.5" />
<text x="355.7" y="424.1" font-size="14.2" text-anchor="end" font-weight="normal" fill="#1a1a1a" color="#1a1a1a" >0.15</text>
<line x1="357.2" y1="375.8" x2="361.2" y2="375.8" stroke="#2a2a2a" stroke-width="1.5" />
<text x="355.7" y="380.4" font-size="14.2" text-anchor="end" font-weight="normal" fill="#1a1a1a" color="#1a1a1a" >0.20</text>
<line x1="379.5" y1="550.8" x2="379.5" y2="555.2" stroke="#2a2a2a" stroke-width="1.5" />
<line x1="417.2" y1="550.8" x2="417.2" y2="555.2" stroke="#2a2a2a" stroke-width="1.5" />
<line x1="361.2" y1="468.2" x2="435.4" y2="468.2" stroke="#222" stroke-width="1.2" stroke-dasharray="1.3 1.2"/>
<circle cx="373.4" cy="470.5" r="4.5" fill="none" stroke="#0404f6" stroke-width="1.9"/>
<circle cx="385.9" cy="473.8" r="4.5" fill="none" stroke="#0404f6" stroke-width="1.9"/>
<circle cx="379.6" cy="499.3" r="4.5" fill="none" stroke="#0404f6" stroke-width="1.9"/>
<circle cx="417.4" cy="393.6" r="4.5" fill="none" stroke="#bf5b1c" stroke-width="1.9"/>
<circle cx="410.9" cy="426.1" r="4.5" fill="none" stroke="#bf5b1c" stroke-width="1.9"/>
<circle cx="423.6" cy="429.9" r="4.5" fill="none" stroke="#bf5b1c" stroke-width="1.9"/>
<circle cx="423.7" cy="456.5" r="4.5" fill="none" stroke="#bf5b1c" stroke-width="1.9"/>
<circle cx="410.8" cy="466.0" r="4.5" fill="none" stroke="#bf5b1c" stroke-width="1.9"/>
<text x="0" y="0" font-size="13.6" text-anchor="middle" fill="#1a1a1a" color="#1a1a1a" transform="translate(317.7 460.9) rotate(-90)">SD of Filtered Oxygen (&gt;0.08Hz)</text>
<text x="0" y="0" font-size="14.2" text-anchor="end" fill="#1a1a1a" color="#1a1a1a" transform="translate(381.7 564.3) rotate(-45)">NEC</text>
<text x="0" y="0" font-size="14.2" text-anchor="end" fill="#1a1a1a" color="#1a1a1a" transform="translate(419.4 564.3) rotate(-45)">GAERS</text>
<polyline points="379.6,379.7 379.6,374.4 416.5,374.4 416.5,379.7" fill="none" stroke="#000" stroke-width="1.7"/>
<text x="0" y="0" font-size="22" font-weight="bold" text-anchor="middle" fill="#000" color="#000" transform="translate(397.2 375.0) scale(0.92 1.12)">*</text>
<line x1="550.2" y1="375.8" x2="550.2" y2="551.6" stroke="#2a2a2a" stroke-width="1.7" />
<line x1="549.4" y1="550.8" x2="624.6" y2="550.8" stroke="#2a2a2a" stroke-width="1.7" />
<line x1="546.2" y1="550.8" x2="550.2" y2="550.8" stroke="#2a2a2a" stroke-width="1.5" />
<text x="544.7" y="555.4" font-size="14.2" text-anchor="end" font-weight="normal" fill="#1a1a1a" color="#1a1a1a" >0.00</text>
<line x1="546.2" y1="507.0" x2="550.2" y2="507.0" stroke="#2a2a2a" stroke-width="1.5" />
<text x="544.7" y="511.6" font-size="14.2" text-anchor="end" font-weight="normal" fill="#1a1a1a" color="#1a1a1a" >0.05</text>
<line x1="546.2" y1="463.3" x2="550.2" y2="463.3" stroke="#2a2a2a" stroke-width="1.5" />
<text x="544.7" y="467.9" font-size="14.2" text-anchor="end" font-weight="normal" fill="#1a1a1a" color="#1a1a1a" >0.10</text>
<line x1="546.2" y1="419.5" x2="550.2" y2="419.5" stroke="#2a2a2a" stroke-width="1.5" />
<text x="544.7" y="424.1" font-size="14.2" text-anchor="end" font-weight="normal" fill="#1a1a1a" color="#1a1a1a" >0.15</text>
<line x1="546.2" y1="375.8" x2="550.2" y2="375.8" stroke="#2a2a2a" stroke-width="1.5" />
<text x="544.7" y="380.4" font-size="14.2" text-anchor="end" font-weight="normal" fill="#1a1a1a" color="#1a1a1a" >0.20</text>
<line x1="568.5" y1="550.8" x2="568.5" y2="555.2" stroke="#2a2a2a" stroke-width="1.5" />
<line x1="606.2" y1="550.8" x2="606.2" y2="555.2" stroke="#2a2a2a" stroke-width="1.5" />
<line x1="550.2" y1="468.2" x2="624.4" y2="468.2" stroke="#222" stroke-width="1.2" stroke-dasharray="1.3 1.2"/>
<circle cx="569.0" cy="484.3" r="4.5" fill="none" stroke="#0404f6" stroke-width="1.9"/>
<circle cx="574.9" cy="495.3" r="4.5" fill="none" stroke="#0404f6" stroke-width="1.9"/>
<circle cx="562.7" cy="506.5" r="4.5" fill="none" stroke="#0404f6" stroke-width="1.9"/>
<circle cx="606.5" cy="468.7" r="4.5" fill="none" stroke="#bf5b1c" stroke-width="1.9"/>
<circle cx="599.8" cy="479.7" r="4.5" fill="none" stroke="#bf5b1c" stroke-width="1.9"/>
<circle cx="612.4" cy="485.6" r="4.5" fill="none" stroke="#bf5b1c" stroke-width="1.9"/>
<circle cx="606.5" cy="518.5" r="4.5" fill="none" stroke="#bf5b1c" stroke-width="1.9"/>
<text x="0" y="0" font-size="13.6" text-anchor="middle" fill="#1a1a1a" color="#1a1a1a" transform="translate(506.7 460.9) rotate(-90)">SD of Filtered Oxygen (&gt;0.08Hz)</text>
<text x="0" y="0" font-size="14.2" text-anchor="end" fill="#1a1a1a" color="#1a1a1a" transform="translate(570.7 564.3) rotate(-45)">NEC</text>
<text x="0" y="0" font-size="14.2" text-anchor="end" fill="#1a1a1a" color="#1a1a1a" transform="translate(608.4 564.3) rotate(-45)">GAERS</text>
</svg>
</body></html>
